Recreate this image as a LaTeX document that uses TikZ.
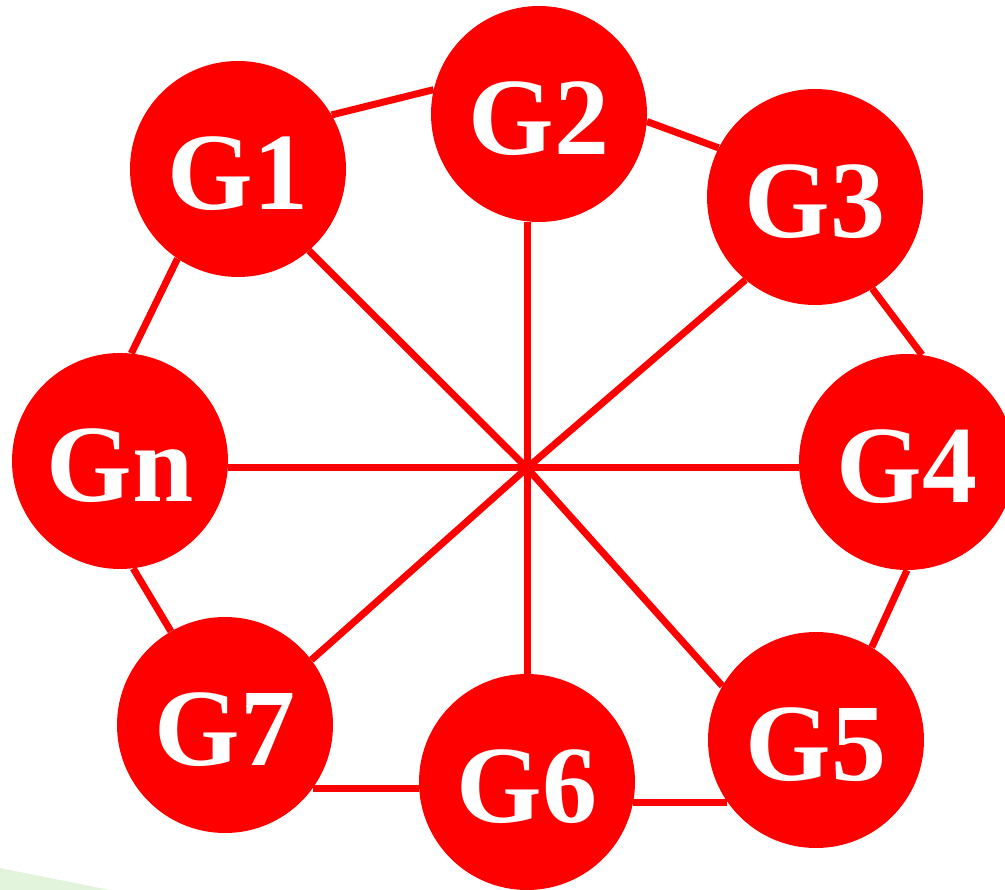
\documentclass[tikz,border=0pt]{standalone}
\usepackage{fontspec}
\setmainfont{Liberation Serif}
\usetikzlibrary{backgrounds}
\definecolor{palegreen}{HTML}{E2F4DC}
\newcommand{\glab}[1]{\raisebox{-4pt}[\height][0pt]{#1}}
\begin{document}
\begin{tikzpicture}[x=1pt,y=-1pt,
  gnode/.style={circle,fill=red,draw=none,minimum size=216pt,inner sep=0pt,
    text=white,font=\fontsize{110pt}{110pt}\selectfont\bfseries},
  link/.style={draw=red,line width=7pt}]
\useasboundingbox (0,0) rectangle (1005,890);
\fill[palegreen] (0,868) -- (110,890) -- (0,890) -- cycle;
\node[gnode] (G1) at (238,169) {\glab{G1}};
\node[gnode] (G2) at (539,114) {\glab{G2}};
\node[gnode] (G3) at (815,197) {\glab{G3}};
\node[gnode] (G4) at (907,462) {\glab{G4}};
\node[gnode] (G5) at (816,740) {\glab{G5}};
\node[gnode] (G6) at (527,782) {\glab{G6}};
\node[gnode] (G7) at (225,725) {\glab{G7}};
\node[gnode] (Gn) at (120,461) {\glab{Gn}};
\coordinate (hub) at (527,468);
\begin{scope}[on background layer]
% ring
\draw[link] (G1.30) -- (G2.167);
\draw[link] (G2.-4) -- (G3.153);
\draw[link] (G3.-58) -- (G4.82);
\draw[link] (G4.-90) -- (G5.59);
\draw[link] (G6.-11) -- (G6.-11 -| G5.215);
\draw[link] (G7.-36) -- (G7.-36 -| G6.west);
\draw[link] (Gn.-83) -- (G7.120);
\draw[link] (Gn.84) -- (G1.-124);
% spokes
\draw[link] (hub) -- (G1.-49);
\draw[link] (hub) -- (hub |- G2.south);
\draw[link] (hub) -- (G3.-130);
\draw[link] (hub) -- (hub -| G4.west);
\draw[link] (hub) -- (G5.150);
\draw[link] (hub) -- (hub |- G6.north);
\draw[link] (hub) -- (G7.37);
\draw[link] (hub) -- (hub -| Gn.east);
\end{scope}
\end{tikzpicture}
\end{document}
